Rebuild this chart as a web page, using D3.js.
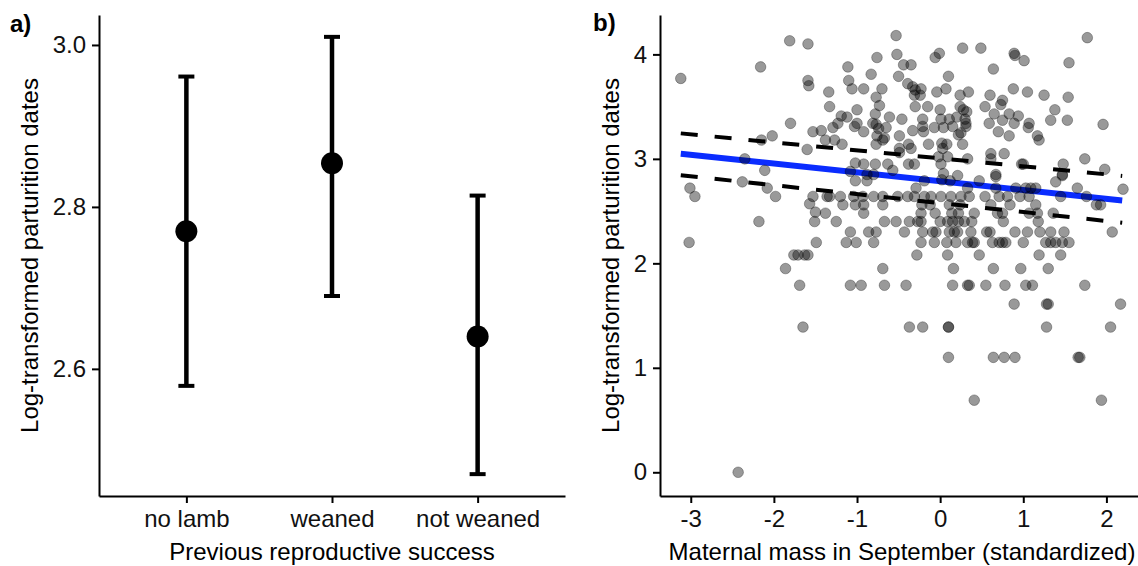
<!DOCTYPE html>
<html>
<head>
<meta charset="utf-8">
<script src="https://cdn.jsdelivr.net/npm/d3@7"></script>
<style>
  body { margin: 0; background: #fff; }
  svg { display: block; font-family: "Liberation Sans", Arial, sans-serif; }
</style>
</head>
<body>
<svg id="chart" width="1138" height="566"></svg>
<script>
// ---- panel a: group means with error bars
const groups = ['no lamb', 'weaned', 'not weaned'];
const groupMean = [2.770, 2.854, 2.640];
const groupLower = [2.579, 2.690, 2.470];
const groupUpper = [2.961, 3.010, 2.814];
const yTicksA = [2.6, 2.8, 3.0];

// ---- panel b: scatter + fitted line with its band
const xTicksB = [-3, -2, -1, 0, 1, 2];
const yTicksB = [0, 1, 2, 3, 4];
const fitX = [-3.12, 2.19];
const fitY = [3.049, 2.601];
const fitUpper = [3.244, 2.837];
const fitLower = [2.844, 2.389];

// [maternal mass (standardized), log parturition date]
const points = [
  [-1.81,4.13],[-1.59,4.10],[-2.16,3.88],[-3.12,3.77],[-1.59,3.75],[-1.58,3.70],[-1.80,3.34],[-1.53,3.26],
  [-2.02,3.22],[-2.15,3.18],[-1.60,3.09],[-2.35,3.00],[-2.11,2.89],[-2.38,2.78],
  [-0.53,4.18],[0.27,4.06],[-0.52,4.00],[-0.76,3.97],[-0.06,3.97],[-0.01,4.01],[-1.11,3.88],[-0.44,3.90],
  [-0.35,3.90],[-0.83,3.81],[-0.50,3.79],[0.10,3.79],[-1.10,3.75],[-0.39,3.72],[-0.33,3.69],[-0.30,3.66],
  [-0.23,3.67],[-1.34,3.64],[-1.06,3.67],[-0.92,3.67],[-0.70,3.67],[-0.31,3.61],[-0.24,3.61],[-0.04,3.64],
  [0.07,3.67],[0.24,3.61],[0.34,3.64],[-0.77,3.59],[-0.73,3.51],[-1.33,3.50],[-1.00,3.47],[-0.30,3.50],
  [-0.15,3.50],[0.00,3.47],[0.24,3.50],[0.28,3.47],[0.32,3.45],[-0.78,3.43],[-1.19,3.41],[-1.12,3.40],
  [-0.61,3.40],[-0.46,3.38],[-0.21,3.38],[0.01,3.38],[0.11,3.38],[0.20,3.40],[0.30,3.38],[0.31,3.34],
  [-1.23,3.34],[-1.29,3.30],[-1.00,3.34],[-0.81,3.34],[-0.77,3.33],[-0.74,3.29],[-1.43,3.27],[-1.03,3.31],
  [-0.92,3.26],[-0.65,3.30],[-0.76,3.22],[-0.67,3.20],[-0.33,3.27],[-0.21,3.31],[-0.20,3.26],[-0.07,3.30],
  [0.04,3.30],[0.15,3.31],[0.22,3.23],[0.25,3.25],[0.31,3.31],[-1.38,3.18],[-1.27,3.18],[-1.18,3.14],
  [-0.77,3.14],[-0.49,3.22],[-0.69,3.18],[-0.38,3.14],[-0.35,3.10],[-0.14,3.14],[0.02,3.15],[0.08,3.14],
  [0.03,3.10],[0.27,3.14],[-0.49,3.10],[-0.49,3.06],[-0.02,3.02],[0.09,3.02],[0.33,3.00],[-0.92,2.95],
  [-1.02,2.96],[-0.78,2.95],[-0.63,2.95],[-0.57,2.89],[-0.38,2.95],[-0.31,2.95],[0.01,2.95],[0.04,2.86],
  [-1.08,2.88],[-0.88,2.85],[-0.80,2.85],
  [1.77,4.16],[0.49,4.06],[0.89,4.01],[0.90,3.99],[1.01,3.94],[1.55,3.92],[0.64,3.86],[0.60,3.61],
  [0.88,3.67],[1.05,3.64],[1.25,3.61],[1.54,3.59],[0.75,3.56],[0.73,3.52],[0.54,3.50],[1.38,3.47],
  [0.65,3.43],[0.83,3.43],[0.94,3.41],[0.75,3.37],[0.89,3.34],[1.33,3.37],[1.53,3.37],[1.96,3.33],
  [0.59,3.34],[1.07,3.34],[1.06,3.30],[0.70,3.26],[0.83,3.22],[1.17,3.22],[1.19,3.18],[0.61,3.05],
  [0.61,3.00],[0.77,3.05],[0.98,2.95],[1.00,2.95],[1.48,2.95],[1.74,3.00],[1.98,2.90],[0.67,2.85],[1.47,2.85],
  [-3.01,2.72],[-2.95,2.64],[-2.08,2.72],[-1.98,2.64],[-1.53,2.64],[-1.57,2.57],[-1.50,2.49],[-1.51,2.40],
  [-2.18,2.40],[-3.02,2.20],[-1.76,2.08],[-1.71,2.08],[-1.63,2.08],[-1.59,2.08],[-1.86,1.95],[-1.69,1.79],[-1.65,1.39],
  [-1.02,2.79],[-0.88,2.79],[-0.29,2.72],[-0.19,2.79],[0.02,2.80],[0.12,2.79],[0.21,2.84],[0.33,2.72],
  [-1.36,2.64],[-1.33,2.64],[-1.20,2.64],[-1.04,2.64],[-0.93,2.64],[-0.80,2.64],[-0.69,2.64],[-0.51,2.64],
  [-0.39,2.64],[-0.31,2.64],[-0.19,2.64],[-0.11,2.64],[0.01,2.64],[0.13,2.64],[0.25,2.64],[0.35,2.64],
  [-1.17,2.56],[-1.02,2.56],[-0.92,2.56],[-0.69,2.56],[-0.22,2.56],[-0.12,2.56],[0.11,2.56],[0.24,2.56],
  [-1.38,2.48],[-0.92,2.48],[-0.23,2.48],[-0.06,2.48],[0.14,2.48],[0.22,2.48],
  [-1.25,2.40],[-0.67,2.40],[-0.53,2.40],[-0.37,2.40],[-0.27,2.40],[-0.23,2.40],[0.00,2.40],[0.09,2.40],
  [0.15,2.40],[0.22,2.40],[0.29,2.40],[0.38,2.40],
  [-1.08,2.30],[-0.86,2.30],[-0.77,2.30],[-0.43,2.30],[-0.21,2.30],[-0.09,2.30],[-0.05,2.30],[0.11,2.30],
  [0.17,2.30],[0.21,2.30],[0.37,2.30],
  [-1.49,2.20],[-1.13,2.20],[-1.01,2.20],[-0.80,2.20],[-0.23,2.20],[-0.07,2.20],[0.08,2.20],[0.19,2.20],
  [0.33,2.20],[0.39,2.20],
  [-0.28,2.08],[0.09,2.08],[-0.69,1.95],[0.16,1.95],
  [-1.08,1.79],[-0.95,1.79],[-0.67,1.79],[-0.41,1.79],[0.15,1.79],[0.33,1.79],[0.35,1.79],
  [-0.37,1.39],[-0.21,1.39],[0.10,1.39],[0.10,1.39],
  [0.47,2.79],[0.67,2.83],[1.39,2.78],[1.47,2.84],[1.65,2.72],[2.20,2.71],
  [0.67,2.72],[0.91,2.72],[1.03,2.72],[1.09,2.72],[1.15,2.72],
  [0.54,2.64],[0.71,2.64],[0.81,2.64],[0.96,2.64],[1.07,2.64],[1.45,2.64],[1.76,2.64],
  [0.61,2.56],[0.84,2.56],[1.15,2.56],[1.88,2.56],[1.93,2.56],
  [0.41,2.48],[0.69,2.48],[0.75,2.48],[1.07,2.48],[1.17,2.48],[1.36,2.48],
  [0.76,2.40],[1.18,2.40],
  [0.56,2.30],[0.60,2.30],[0.90,2.30],[1.05,2.30],[1.20,2.30],[1.33,2.30],[1.49,2.30],[2.07,2.30],
  [0.41,2.20],[0.63,2.20],[0.71,2.20],[0.75,2.20],[0.79,2.20],[1.00,2.20],[1.27,2.20],[1.33,2.20],
  [1.39,2.20],[1.47,2.20],[1.55,2.20],
  [0.47,2.08],[1.19,2.08],[1.45,2.08],
  [0.64,1.95],[0.97,1.95],[1.30,1.95],
  [0.55,1.79],[0.78,1.79],[1.03,1.79],[1.11,1.79],[1.74,1.79],
  [0.89,1.61],[1.28,1.61],[1.30,1.61],[2.17,1.61],
  [1.28,1.39],[2.05,1.39],
  [0.10,1.10],[0.64,1.10],[0.77,1.10],[0.90,1.10],[1.66,1.10],[1.68,1.10],
  [0.41,0.69],[1.94,0.69],
  [-2.43,0.00]
];

const svg = d3.select('#chart');
const fontSize = 24;

/* ---
 * Helper: styles an axis group like the ggplot classic theme.
 */
function styleAxis(g) {
  g.select('.domain').attr('stroke', '#000').attr('stroke-width', 2);
  g.selectAll('.tick line').attr('stroke', '#000').attr('stroke-width', 2);
  g.selectAll('.tick text').attr('fill', '#111').style('font-size', fontSize + 'px');
}

// ================= panel a =================
const xA = d3.scalePoint().domain(groups).range([99, 565]).padding(0.6);
const yA = d3.scaleLinear().domain([2.443, 3.037]).range([496, 15]);

const gA = svg.append('g');

gA.append('g')
  .attr('transform', 'translate(99,0)')
  .call(d3.axisLeft(yA).tickValues(yTicksA).tickFormat(d3.format('.1f')).tickSize(7).tickSizeOuter(0).tickPadding(6))
  .call(styleAxis);

gA.append('g')
  .attr('transform', 'translate(0,496)')
  .call(d3.axisBottom(xA).tickSize(7).tickSizeOuter(0).tickPadding(7))
  .call(styleAxis);

const bars = gA.append('g').selectAll('g')
  .data(groups)
  .enter()
  .append('g');

bars.append('line')
  .attr('x1', d => xA(d)).attr('x2', d => xA(d))
  .attr('y1', (d, i) => yA(groupLower[i])).attr('y2', (d, i) => yA(groupUpper[i]))
  .attr('stroke', '#000').attr('stroke-width', 4.5);

bars.selectAll('.cap')
  .data((d, i) => [[d, groupLower[i]], [d, groupUpper[i]]])
  .enter()
  .append('line')
  .attr('class', 'cap')
  .attr('x1', d => xA(d[0]) - 8).attr('x2', d => xA(d[0]) + 8)
  .attr('y1', d => yA(d[1])).attr('y2', d => yA(d[1]))
  .attr('stroke', '#000').attr('stroke-width', 4);

bars.append('circle')
  .attr('cx', d => xA(d))
  .attr('cy', (d, i) => yA(groupMean[i]))
  .attr('r', 11)
  .attr('fill', '#000');

gA.append('text')
  .attr('transform', 'translate(38,' + (15 + 496) / 2 + ') rotate(-90)')
  .attr('text-anchor', 'middle')
  .style('font-size', fontSize + 'px')
  .text('Log-transformed parturition dates');

gA.append('text')
  .attr('x', (99 + 565) / 2).attr('y', 560)
  .attr('text-anchor', 'middle')
  .style('font-size', fontSize + 'px')
  .text('Previous reproductive success');

gA.append('text')
  .attr('x', 10).attr('y', 32)
  .style('font-size', fontSize + 'px').style('font-weight', 'bold')
  .text('a)');

// ================= panel b =================
const xB = d3.scaleLinear().domain([-3.37, 2.38]).range([660, 1138]);
const yB = d3.scaleLinear().domain([-0.227, 4.377]).range([496, 15]);

const gB = svg.append('g');

gB.append('g')
  .attr('transform', 'translate(660,0)')
  .call(d3.axisLeft(yB).tickValues(yTicksB).tickFormat(d => String(d)).tickSize(7).tickSizeOuter(0).tickPadding(6))
  .call(styleAxis);

gB.append('g')
  .attr('transform', 'translate(0,496)')
  .call(d3.axisBottom(xB).tickValues(xTicksB).tickFormat(d => String(d)).tickSize(7).tickSizeOuter(0).tickPadding(7))
  .call(styleAxis);

const line = d3.line().x(d => xB(d[0])).y(d => yB(d[1]));

gB.append('path')
  .attr('d', line(d3.zip(fitX, fitUpper)))
  .attr('fill', 'none').attr('stroke', '#000').attr('stroke-width', 4)
  .attr('stroke-dasharray', '17 17');

gB.append('path')
  .attr('d', line(d3.zip(fitX, fitLower)))
  .attr('fill', 'none').attr('stroke', '#000').attr('stroke-width', 4)
  .attr('stroke-dasharray', '17 17');

gB.append('path')
  .attr('d', line(d3.zip(fitX, fitY)))
  .attr('fill', 'none').attr('stroke', '#0a2cff').attr('stroke-width', 6);

gB.append('g').selectAll('circle')
  .data(points)
  .enter()
  .append('circle')
  .attr('cx', d => xB(d[0]))
  .attr('cy', d => yB(d[1]))
  .attr('r', 5.3)
  .attr('fill', '#000').attr('fill-opacity', 0.4)
  .attr('stroke', '#000').attr('stroke-opacity', 0.3).attr('stroke-width', 1);

gB.append('text')
  .attr('transform', 'translate(619,' + (15 + 496) / 2 + ') rotate(-90)')
  .attr('text-anchor', 'middle')
  .style('font-size', fontSize + 'px')
  .text('Log-transformed parturition dates');

gB.append('text')
  .attr('x', (660 + 1138) / 2 + 3).attr('y', 560)
  .attr('text-anchor', 'middle')
  .style('font-size', fontSize + 'px')
  .text('Maternal mass in September (standardized)');

gB.append('text')
  .attr('x', 593).attr('y', 31)
  .style('font-size', fontSize + 'px').style('font-weight', 'bold')
  .text('b)');
</script>
</body>
</html>
